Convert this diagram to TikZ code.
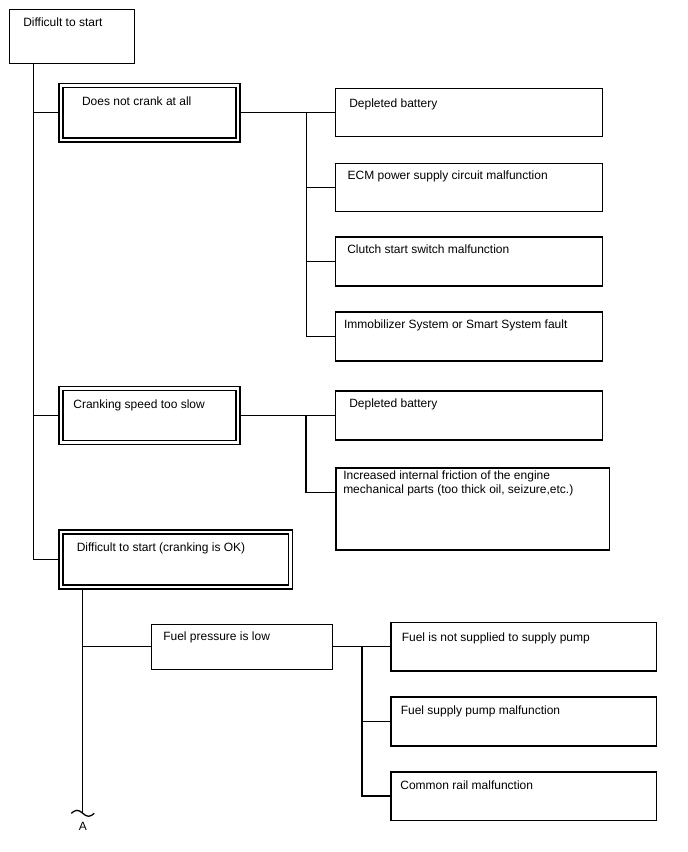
\documentclass[tikz,border=0pt]{standalone}
\usepackage{fontspec}
\setmainfont{Liberation Sans}
\usetikzlibrary{positioning}

\begin{document}
\begin{tikzpicture}[x=1pt, y=-1pt, line width=1.3pt,
    box/.style={draw, rectangle, inner sep=0pt},
    dbox/.style={box, double, double distance=2.7pt, outer sep=2.65pt},
    lbl/.style={inner sep=0pt, align=left, font=\fontsize{12}{14.5}\selectfont}]
  \useasboundingbox (0,0) rectangle (688,852);

  \node[box, minimum width=125pt, minimum height=54pt] (start) at (71.8,36.3) {};
  \node[lbl, below right=8.1pt and 14pt of start.north west] (startt) {Difficult to start};

  \node[dbox, minimum width=177pt, minimum height=54.7pt] (dnc) at (149.5,112.7) {};
  \node[lbl, below right=13pt and 23pt of dnc.north west] (dnct) {Does not crank at all};
  \node[box, minimum width=266.6pt, minimum height=48pt] (db1) at (469,112.7) {};
  \node[lbl, below right=9.7pt and 13.6pt of db1.north west] (db1t) {Depleted battery};
  \node[box, minimum width=266.6pt, minimum height=48.3pt] (ecm) at (469,187.3) {};
  \node[lbl, below right=7.5pt and 12pt of ecm.north west] (ecmt) {ECM power supply circuit malfunction};
  \node[box, minimum width=266.6pt, minimum height=49pt] (clutch) at (469,261.5) {};
  \node[lbl, below right=8pt and 11.6pt of clutch.north west] (clutcht) {Clutch start switch malfunction};
  \node[box, minimum width=266.6pt, minimum height=49pt] (imm) at (469,336.5) {};
  \node[lbl, below right=7.7pt and 8.3pt of imm.north west] (immt) {Immobilizer System or Smart System fault};

  \node[dbox, minimum width=177pt, minimum height=54.5pt] (slow) at (149.5,415.5) {};
  \node[lbl, below right=13.7pt and 14.4pt of slow.north west] (slowt) {Cranking speed too slow};
  \node[box, minimum width=266.6pt, minimum height=49pt] (db2) at (469,415.5) {};
  \node[lbl, below right=8pt and 13.6pt of db2.north west] (db2t) {Depleted battery};
  \node[box, minimum width=273.3pt, minimum height=82pt] (fric) at (472.6,509) {};
  \node[lbl, below right=2.7pt and 7.3pt of fric.north west] (frict) {Increased internal friction of the engine\\mechanical parts (too thick oil, seizure,etc.)};

  \node[dbox, minimum width=229.7pt, minimum height=55pt] (ok) at (175.9,559.5) {};
  \node[lbl, below right=13pt and 17.7pt of ok.north west] (okt) {Difficult to start (cranking is OK)};

  \node[box, minimum width=181pt, minimum height=45pt] (fuel) at (242.2,646.7) {};
  \node[lbl, below right=7.2pt and 11.6pt of fuel.north west] (fuelt) {Fuel pressure is low};
  \node[box, minimum width=265.7pt, minimum height=48.3pt] (nosup) at (523.9,646.7) {};
  \node[lbl, below right=9.8pt and 10.7pt of nosup.north west] (nosupt) {Fuel is not supplied to supply pump};
  \node[box, minimum width=265.7pt, minimum height=49pt] (pump) at (523.9,721.5) {};
  \node[lbl, below right=8.7pt and 9.7pt of pump.north west] (pumpt) {Fuel supply pump malfunction};
  \node[box, minimum width=265.7pt, minimum height=48.3pt] (rail) at (523.9,796) {};
  \node[lbl, below right=8.8pt and 9.3pt of rail.north west] (railt) {Common rail malfunction};

  \coordinate (t0) at (33.3,63.3);
  \coordinate (j1) at (306.5,112.7);
  \coordinate (j2) at (306,415.5);
  \coordinate (t1) at (82.8,589.9);
  \coordinate (t2) at (82.8,813.3);
  \coordinate (j3) at (362,646.7);

  \draw (t0) |- (dnc.west) (t0) |- (slow.west) (t0) |- (ok.west);
  \draw (dnc) -- (db1);
  \draw (j1) |- (ecm.west) (j1) |- (clutch.west) (j1) |- (imm.west);
  \draw (slow) -- (db2);
  \draw (j2) |- ([yshift=-25.3pt]fric.north west);
  \draw (t1) -- (t2);
  \draw (t1) |- (fuel.west);
  \draw (fuel) -- (nosup);
  \draw (j3) |- (pump.west) (j3) |- (rail.west);

  % break mark
  \draw (t2) ++(-11.5,0) sin ++(5.75,-3) cos ++(5.75,3) sin ++(5.75,3) cos ++(5.75,-3);
  \node[lbl, below=8.4pt of t2] (a) {A};
\end{tikzpicture}
\end{document}
